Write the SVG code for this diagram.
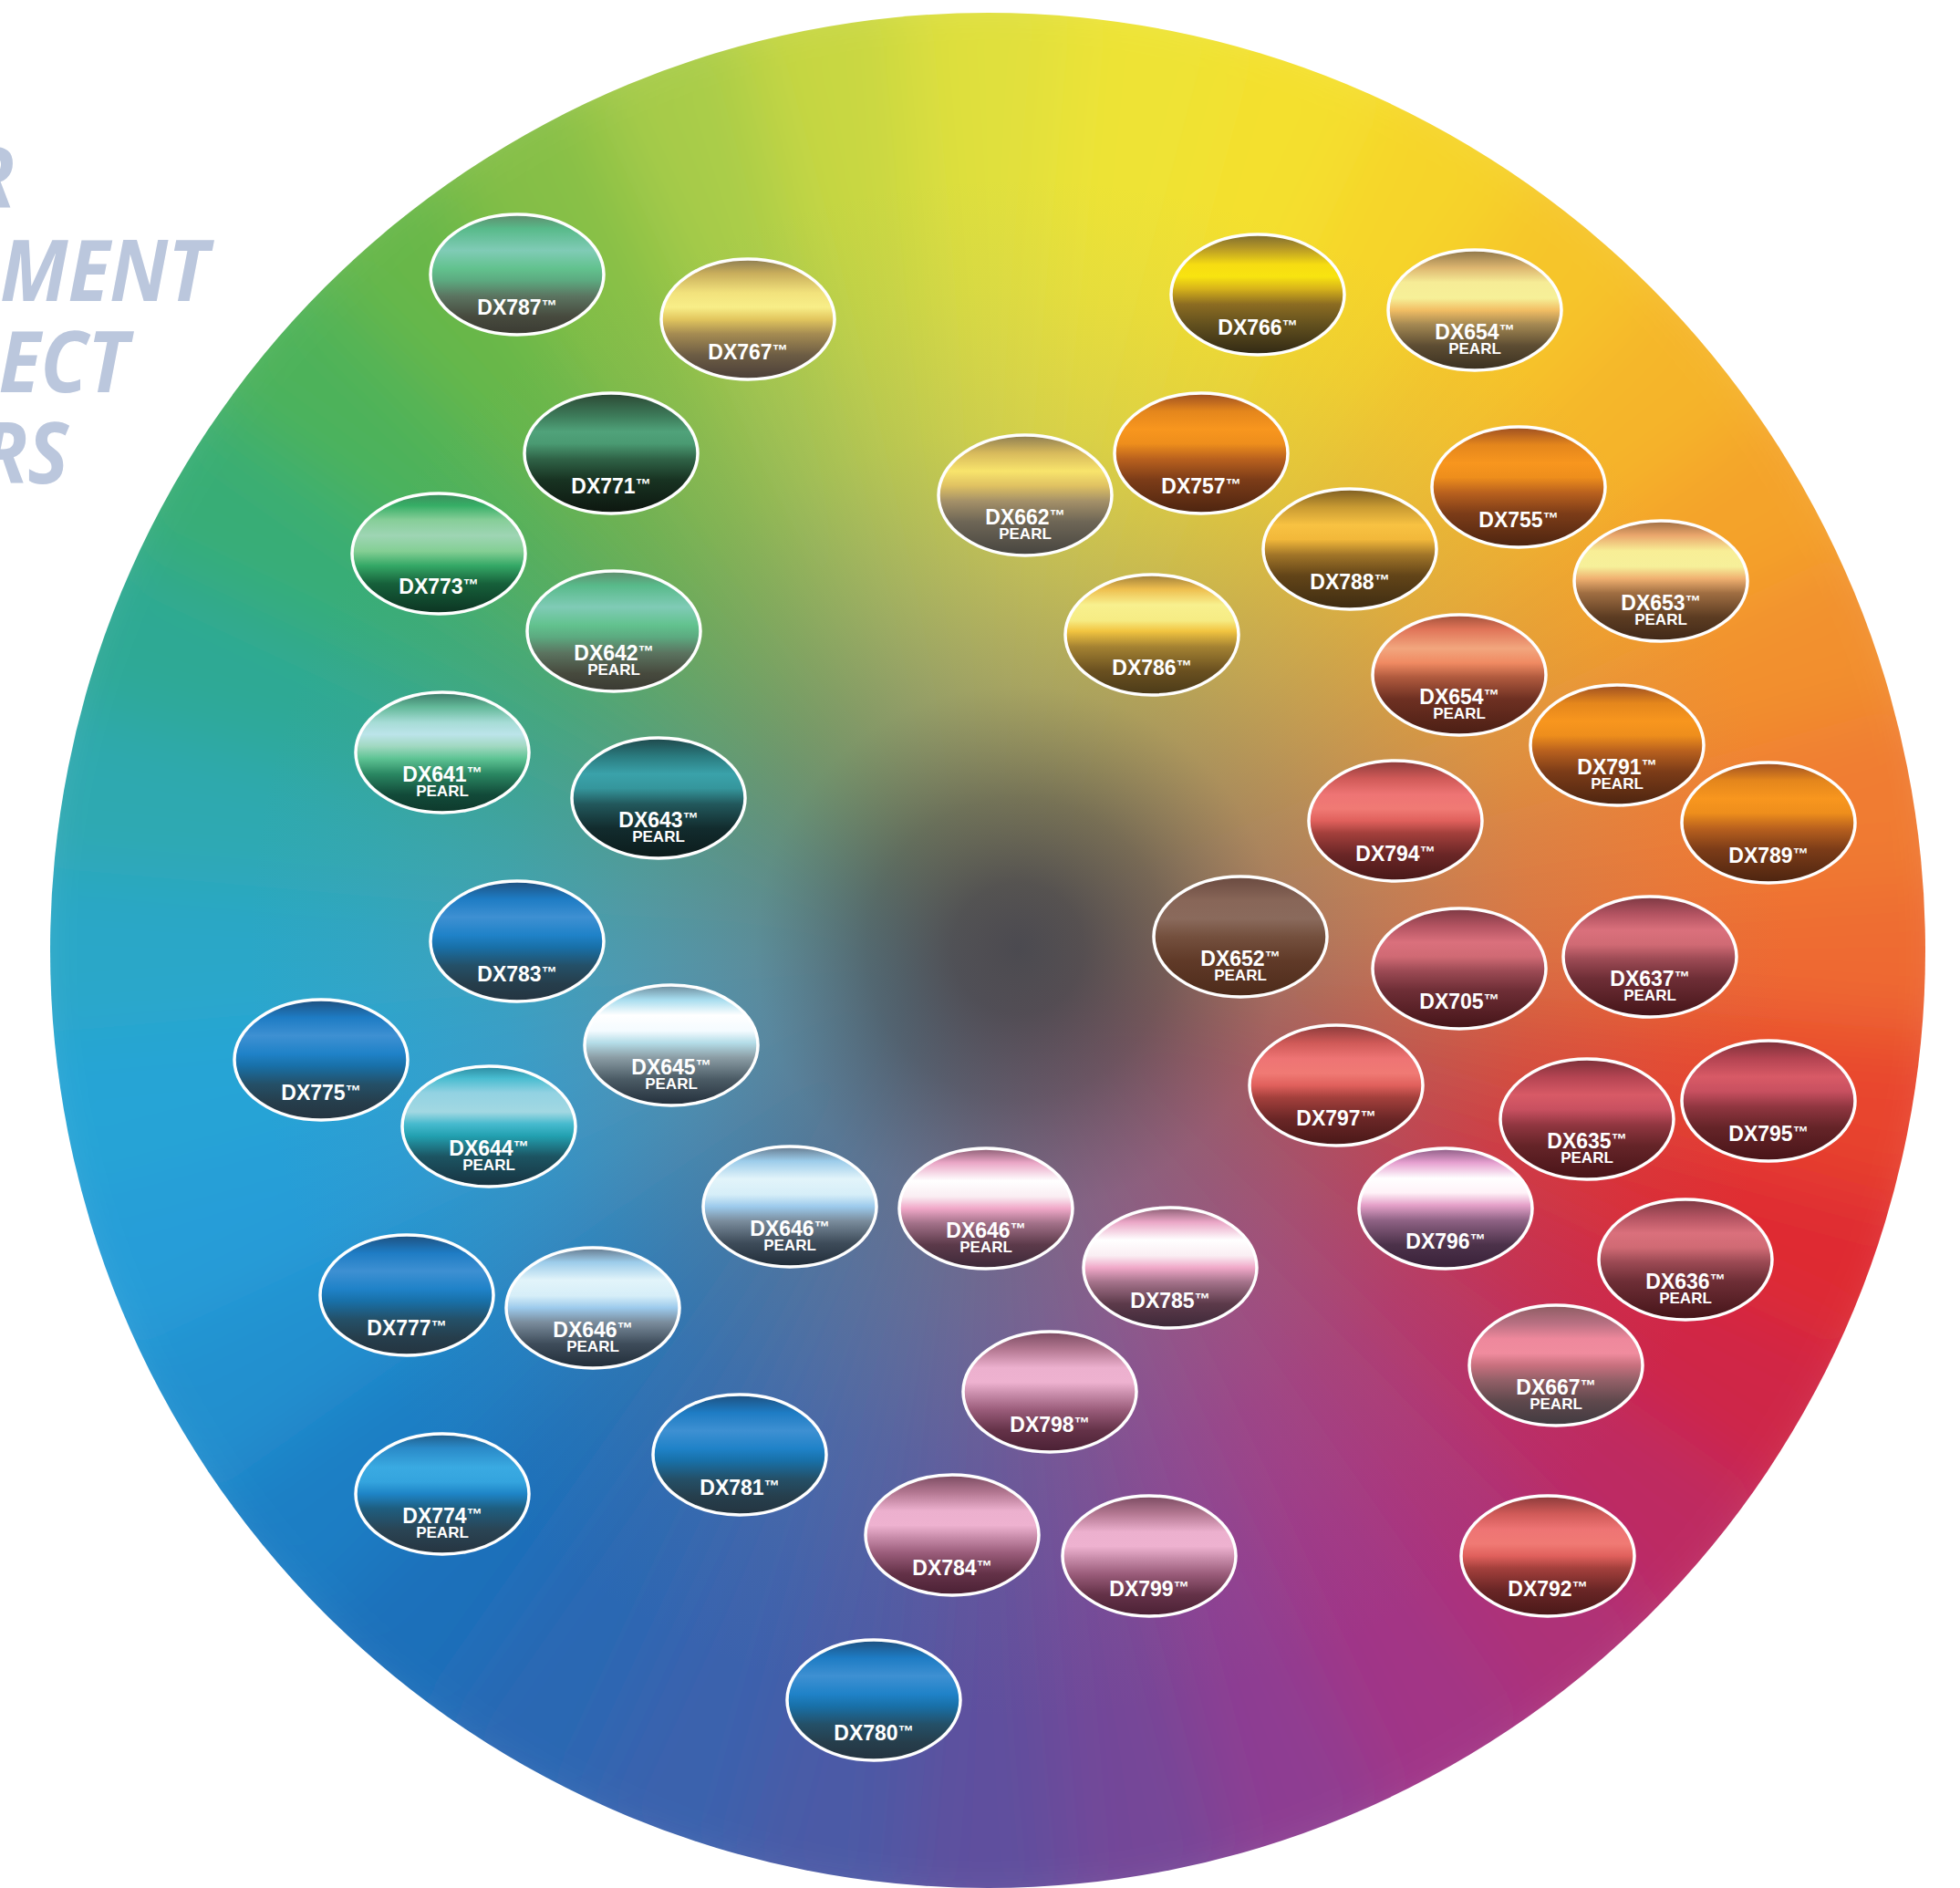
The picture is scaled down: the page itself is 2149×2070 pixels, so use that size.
<svg xmlns="http://www.w3.org/2000/svg" width="2149" height="2070" viewBox="0 0 2149 2070">
<style>
.w{fill:none;stroke-width:1100;stroke-dasharray:105.6 3350.15}
ellipse{stroke:#fff;stroke-width:3.5}
.l{font-family:"Liberation Sans",Arial,Helvetica,sans-serif;font-weight:700;font-size:23px;fill:#fff;text-anchor:middle}
.tm{font-size:17px}
.p{font-size:17px}
.big{font-family:"Open Sans","Liberation Sans",sans-serif;font-weight:700;font-style:italic;font-size:94px;fill:#BBC7DD;text-anchor:end}
</style>
<defs>
<clipPath id="wheelClip"><circle cx="1083" cy="1042" r="1028"/></clipPath>
<filter id="soft" filterUnits="userSpaceOnUse" x="-200" y="-200" width="2550" height="2470"><feGaussianBlur stdDeviation="42"/></filter>
<radialGradient id="shade" gradientUnits="userSpaceOnUse" cx="1116" cy="1040" r="1030">
<stop offset="0" stop-color="#4B4A50" stop-opacity="1"/>
<stop offset="0.07" stop-color="#4E4D52" stop-opacity="0.95"/>
<stop offset="0.16" stop-color="#5C5C5E" stop-opacity="0.82"/>
<stop offset="0.28" stop-color="#7C7C7C" stop-opacity="0.6"/>
<stop offset="0.4" stop-color="#848484" stop-opacity="0.42"/>
<stop offset="0.55" stop-color="#8A8A8A" stop-opacity="0.2"/>
<stop offset="0.7" stop-color="#909090" stop-opacity="0.07"/>
<stop offset="0.82" stop-color="#909090" stop-opacity="0"/>
</radialGradient>
<linearGradient id="g787" x1="0" y1="0" x2="0" y2="1"><stop offset="0" stop-color="#5F8B6C"/><stop offset=".12" stop-color="#58BA8A"/><stop offset=".3" stop-color="#80CBB6"/><stop offset=".45" stop-color="#62C28E"/><stop offset=".55" stop-color="#5CAA80"/><stop offset=".68" stop-color="#5B7460"/><stop offset=".85" stop-color="#474A3E"/><stop offset="1" stop-color="#3A3A32"/></linearGradient>
<linearGradient id="g767" x1="0" y1="0" x2="0" y2="1"><stop offset="0" stop-color="#8C7C52"/><stop offset=".12" stop-color="#C9AE5C"/><stop offset=".28" stop-color="#F2E27C"/><stop offset=".4" stop-color="#F8EE88"/><stop offset=".5" stop-color="#E2C65E"/><stop offset=".62" stop-color="#A68C52"/><stop offset=".8" stop-color="#6C5C44"/><stop offset="1" stop-color="#4A3E38"/></linearGradient>
<linearGradient id="g771" x1="0" y1="0" x2="0" y2="1"><stop offset="0" stop-color="#2B4733"/><stop offset=".2" stop-color="#3E7E5C"/><stop offset=".32" stop-color="#50A27A"/><stop offset=".42" stop-color="#4A9A72"/><stop offset=".55" stop-color="#2F6246"/><stop offset=".72" stop-color="#183322"/><stop offset="1" stop-color="#0D160F"/></linearGradient>
<linearGradient id="g773" x1="0" y1="0" x2="0" y2="1"><stop offset="0" stop-color="#3C8B5B"/><stop offset=".1" stop-color="#36AE66"/><stop offset=".22" stop-color="#86CE98"/><stop offset=".35" stop-color="#9ED5B4"/><stop offset=".48" stop-color="#84CF94"/><stop offset=".6" stop-color="#34A866"/><stop offset=".75" stop-color="#16603A"/><stop offset="1" stop-color="#0C3322"/></linearGradient>
<linearGradient id="g641" x1="0" y1="0" x2="0" y2="1"><stop offset="0" stop-color="#3B7867"/><stop offset=".12" stop-color="#62B898"/><stop offset=".25" stop-color="#A6DCD6"/><stop offset=".35" stop-color="#BCE4EA"/><stop offset=".45" stop-color="#A0D8C0"/><stop offset=".55" stop-color="#5EC494"/><stop offset=".68" stop-color="#2A8762"/><stop offset=".85" stop-color="#124A39"/><stop offset="1" stop-color="#0E392C"/></linearGradient>
<linearGradient id="g643" x1="0" y1="0" x2="0" y2="1"><stop offset="0" stop-color="#1E474A"/><stop offset=".15" stop-color="#2A7A7E"/><stop offset=".3" stop-color="#3AA2AA"/><stop offset=".42" stop-color="#35969C"/><stop offset=".55" stop-color="#22585C"/><stop offset=".75" stop-color="#122C2E"/><stop offset="1" stop-color="#0C1B1B"/></linearGradient>
<linearGradient id="gBlue" x1="0" y1="0" x2="0" y2="1"><stop offset="0" stop-color="#1E4F7E"/><stop offset=".15" stop-color="#1E7CC4"/><stop offset=".3" stop-color="#3E90D2"/><stop offset=".45" stop-color="#1F82C8"/><stop offset=".55" stop-color="#1870A8"/><stop offset=".7" stop-color="#245068"/><stop offset=".85" stop-color="#263E4C"/><stop offset="1" stop-color="#243440"/></linearGradient>
<linearGradient id="g774" x1="0" y1="0" x2="0" y2="1"><stop offset="0" stop-color="#215C88"/><stop offset=".12" stop-color="#2A8AC8"/><stop offset=".28" stop-color="#3AAAE2"/><stop offset=".4" stop-color="#34A4DE"/><stop offset=".5" stop-color="#1E84C6"/><stop offset=".62" stop-color="#1E5E80"/><stop offset=".8" stop-color="#2A4454"/><stop offset="1" stop-color="#263440"/></linearGradient>
<linearGradient id="g645" x1="0" y1="0" x2="0" y2="1"><stop offset="0" stop-color="#6C8A9A"/><stop offset=".12" stop-color="#A6DCEE"/><stop offset=".25" stop-color="#FFFFFF"/><stop offset=".38" stop-color="#F4FBFF"/><stop offset=".48" stop-color="#B4DDE8"/><stop offset=".6" stop-color="#8C9EA6"/><stop offset=".78" stop-color="#4C5C66"/><stop offset="1" stop-color="#222E3A"/></linearGradient>
<linearGradient id="g644" x1="0" y1="0" x2="0" y2="1"><stop offset="0" stop-color="#2B889E"/><stop offset=".1" stop-color="#48BCD0"/><stop offset=".22" stop-color="#92D2E2"/><stop offset=".38" stop-color="#A2D8E2"/><stop offset=".48" stop-color="#46BACE"/><stop offset=".58" stop-color="#22A0B0"/><stop offset=".75" stop-color="#1C5462"/><stop offset="1" stop-color="#173240"/></linearGradient>
<linearGradient id="g646" x1="0" y1="0" x2="0" y2="1"><stop offset="0" stop-color="#64788C"/><stop offset=".12" stop-color="#9CCCEA"/><stop offset=".27" stop-color="#E2F4FA"/><stop offset=".4" stop-color="#D6EEF8"/><stop offset=".5" stop-color="#9CCAEC"/><stop offset=".62" stop-color="#7A8C9C"/><stop offset=".8" stop-color="#3E4C5A"/><stop offset="1" stop-color="#202C38"/></linearGradient>
<linearGradient id="g646p" x1="0" y1="0" x2="0" y2="1"><stop offset="0" stop-color="#8A5C72"/><stop offset=".12" stop-color="#EAA6C6"/><stop offset=".27" stop-color="#FFFFFF"/><stop offset=".4" stop-color="#FAEEF3"/><stop offset=".5" stop-color="#F0A8C8"/><stop offset=".62" stop-color="#A4728A"/><stop offset=".8" stop-color="#5C3A4A"/><stop offset="1" stop-color="#3C2838"/></linearGradient>
<linearGradient id="g796" x1="0" y1="0" x2="0" y2="1"><stop offset="0" stop-color="#8A5A82"/><stop offset=".12" stop-color="#E6A0D0"/><stop offset=".25" stop-color="#FFFFFF"/><stop offset=".37" stop-color="#FFF2F8"/><stop offset=".47" stop-color="#E6A2CA"/><stop offset=".6" stop-color="#8E6284"/><stop offset=".8" stop-color="#4C324A"/><stop offset="1" stop-color="#382038"/></linearGradient>
<linearGradient id="g798" x1="0" y1="0" x2="0" y2="1"><stop offset="0" stop-color="#7A4A60"/><stop offset=".15" stop-color="#B47892"/><stop offset=".3" stop-color="#ECB0CE"/><stop offset=".42" stop-color="#EEB2D0"/><stop offset=".52" stop-color="#C88CAA"/><stop offset=".65" stop-color="#9A5C7A"/><stop offset=".82" stop-color="#643248"/><stop offset="1" stop-color="#4A2034"/></linearGradient>
<linearGradient id="g766" x1="0" y1="0" x2="0" y2="1"><stop offset="0" stop-color="#7C6A30"/><stop offset=".12" stop-color="#B89A26"/><stop offset=".25" stop-color="#F6DC12"/><stop offset=".35" stop-color="#F8E410"/><stop offset=".45" stop-color="#D8B41A"/><stop offset=".58" stop-color="#8C6C22"/><stop offset=".75" stop-color="#62501E"/><stop offset="1" stop-color="#302814"/></linearGradient>
<linearGradient id="g654a" x1="0" y1="0" x2="0" y2="1"><stop offset="0" stop-color="#8C7448"/><stop offset=".15" stop-color="#DDB670"/><stop offset=".27" stop-color="#F6EC96"/><stop offset=".4" stop-color="#F6F098"/><stop offset=".5" stop-color="#F2BE64"/><stop offset=".62" stop-color="#A48852"/><stop offset=".8" stop-color="#5C4C32"/><stop offset="1" stop-color="#3A3020"/></linearGradient>
<linearGradient id="g662" x1="0" y1="0" x2="0" y2="1"><stop offset="0" stop-color="#8C7C52"/><stop offset=".15" stop-color="#D8BA5C"/><stop offset=".3" stop-color="#F8E46C"/><stop offset=".42" stop-color="#E0C262"/><stop offset=".55" stop-color="#A49068"/><stop offset=".72" stop-color="#6E6656"/><stop offset="1" stop-color="#46443F"/></linearGradient>
<linearGradient id="gOrange" x1="0" y1="0" x2="0" y2="1"><stop offset="0" stop-color="#9C4E22"/><stop offset=".15" stop-color="#E4861C"/><stop offset=".3" stop-color="#F8961E"/><stop offset=".42" stop-color="#EE8E1C"/><stop offset=".55" stop-color="#B8601E"/><stop offset=".72" stop-color="#7C3C18"/><stop offset="1" stop-color="#4C2410"/></linearGradient>
<linearGradient id="g788" x1="0" y1="0" x2="0" y2="1"><stop offset="0" stop-color="#7C5C22"/><stop offset=".15" stop-color="#C89A32"/><stop offset=".3" stop-color="#F8C242"/><stop offset=".42" stop-color="#F2B83A"/><stop offset=".55" stop-color="#A07428"/><stop offset=".72" stop-color="#624418"/><stop offset="1" stop-color="#3E2C12"/></linearGradient>
<linearGradient id="g653" x1="0" y1="0" x2="0" y2="1"><stop offset="0" stop-color="#9C6C42"/><stop offset=".12" stop-color="#EAA66C"/><stop offset=".25" stop-color="#F8EE96"/><stop offset=".38" stop-color="#F6F09A"/><stop offset=".48" stop-color="#F0B070"/><stop offset=".6" stop-color="#A06E42"/><stop offset=".8" stop-color="#5C3C22"/><stop offset="1" stop-color="#402818"/></linearGradient>
<linearGradient id="g786" x1="0" y1="0" x2="0" y2="1"><stop offset="0" stop-color="#9C7C3A"/><stop offset=".12" stop-color="#EEBE4E"/><stop offset=".25" stop-color="#F8F08E"/><stop offset=".38" stop-color="#F6EC84"/><stop offset=".47" stop-color="#F2C440"/><stop offset=".6" stop-color="#A48232"/><stop offset=".8" stop-color="#6A5020"/><stop offset="1" stop-color="#4A3A18"/></linearGradient>
<linearGradient id="g654b" x1="0" y1="0" x2="0" y2="1"><stop offset="0" stop-color="#A0503A"/><stop offset=".12" stop-color="#E07458"/><stop offset=".28" stop-color="#F2A67E"/><stop offset=".4" stop-color="#F08A62"/><stop offset=".52" stop-color="#B05A3E"/><stop offset=".7" stop-color="#6E3022"/><stop offset="1" stop-color="#4A1E14"/></linearGradient>
<linearGradient id="g794" x1="0" y1="0" x2="0" y2="1"><stop offset="0" stop-color="#8A3A3A"/><stop offset=".15" stop-color="#D05A58"/><stop offset=".28" stop-color="#EE7474"/><stop offset=".4" stop-color="#F07A74"/><stop offset=".5" stop-color="#E0605C"/><stop offset=".6" stop-color="#A4403C"/><stop offset=".78" stop-color="#6A2626"/><stop offset="1" stop-color="#481818"/></linearGradient>
<linearGradient id="g652" x1="0" y1="0" x2="0" y2="1"><stop offset="0" stop-color="#6A4A40"/><stop offset=".2" stop-color="#886658"/><stop offset=".35" stop-color="#8A6A5C"/><stop offset=".5" stop-color="#74503E"/><stop offset=".7" stop-color="#603A28"/><stop offset="1" stop-color="#4C2A1A"/></linearGradient>
<linearGradient id="g705" x1="0" y1="0" x2="0" y2="1"><stop offset="0" stop-color="#7C3842"/><stop offset=".15" stop-color="#B45462"/><stop offset=".28" stop-color="#DA707C"/><stop offset=".4" stop-color="#D06A74"/><stop offset=".52" stop-color="#9C4A54"/><stop offset=".68" stop-color="#6E2E36"/><stop offset="1" stop-color="#441418"/></linearGradient>
<linearGradient id="g635" x1="0" y1="0" x2="0" y2="1"><stop offset="0" stop-color="#7A3038"/><stop offset=".15" stop-color="#B44452"/><stop offset=".3" stop-color="#D85A66"/><stop offset=".42" stop-color="#C85060"/><stop offset=".55" stop-color="#903640"/><stop offset=".72" stop-color="#652428"/><stop offset="1" stop-color="#481418"/></linearGradient>
<linearGradient id="g667" x1="0" y1="0" x2="0" y2="1"><stop offset="0" stop-color="#8C5C62"/><stop offset=".15" stop-color="#B87082"/><stop offset=".28" stop-color="#EE889C"/><stop offset=".4" stop-color="#F08C9E"/><stop offset=".5" stop-color="#C8707E"/><stop offset=".62" stop-color="#946068"/><stop offset=".8" stop-color="#5E484C"/><stop offset="1" stop-color="#403A40"/></linearGradient>
</defs>

<g id="title">
<text class="big" transform="translate(16,228) scale(0.9,1)">R</text>
<text class="big" transform="translate(229,330) scale(0.9,1)">MENT</text>
<text class="big" transform="translate(141,430) scale(0.9,1)">ECT</text>
<text class="big" transform="translate(75,530) scale(0.9,1)">RS</text>
</g>

<g id="wheel" clip-path="url(#wheelClip)">
<g filter="url(#soft)">
<g transform="rotate(-5 1083 1042)">
<circle class="w" cx="1083" cy="1042" r="550" stroke="#EE6A30" stroke-dashoffset="0"/>
<circle class="w" cx="1083" cy="1042" r="550" stroke="#E8442E" stroke-dashoffset="-95.99"/>
<circle class="w" cx="1083" cy="1042" r="550" stroke="#DF2C33" stroke-dashoffset="-191.99"/>
<circle class="w" cx="1083" cy="1042" r="550" stroke="#CF2547" stroke-dashoffset="-287.98"/>
<circle class="w" cx="1083" cy="1042" r="550" stroke="#BD2A62" stroke-dashoffset="-383.97"/>
<circle class="w" cx="1083" cy="1042" r="550" stroke="#AE3078" stroke-dashoffset="-479.97"/>
<circle class="w" cx="1083" cy="1042" r="550" stroke="#A23686" stroke-dashoffset="-575.96"/>
<circle class="w" cx="1083" cy="1042" r="550" stroke="#8E3E92" stroke-dashoffset="-671.95"/>
<circle class="w" cx="1083" cy="1042" r="550" stroke="#744798" stroke-dashoffset="-767.94"/>
<circle class="w" cx="1083" cy="1042" r="550" stroke="#5E509E" stroke-dashoffset="-863.94"/>
<circle class="w" cx="1083" cy="1042" r="550" stroke="#4C5AA6" stroke-dashoffset="-959.93"/>
<circle class="w" cx="1083" cy="1042" r="550" stroke="#3B62AD" stroke-dashoffset="-1055.92"/>
<circle class="w" cx="1083" cy="1042" r="550" stroke="#2C68B3" stroke-dashoffset="-1151.92"/>
<circle class="w" cx="1083" cy="1042" r="550" stroke="#1F70BA" stroke-dashoffset="-1247.91"/>
<circle class="w" cx="1083" cy="1042" r="550" stroke="#1E7EC4" stroke-dashoffset="-1343.90"/>
<circle class="w" cx="1083" cy="1042" r="550" stroke="#2190CF" stroke-dashoffset="-1439.90"/>
<circle class="w" cx="1083" cy="1042" r="550" stroke="#259DD8" stroke-dashoffset="-1535.89"/>
<circle class="w" cx="1083" cy="1042" r="550" stroke="#28A4D6" stroke-dashoffset="-1631.88"/>
<circle class="w" cx="1083" cy="1042" r="550" stroke="#2BA7C8" stroke-dashoffset="-1727.87"/>
<circle class="w" cx="1083" cy="1042" r="550" stroke="#2FA9B0" stroke-dashoffset="-1823.87"/>
<circle class="w" cx="1083" cy="1042" r="550" stroke="#2FA994" stroke-dashoffset="-1919.86"/>
<circle class="w" cx="1083" cy="1042" r="550" stroke="#38AD76" stroke-dashoffset="-2015.85"/>
<circle class="w" cx="1083" cy="1042" r="550" stroke="#4EB25A" stroke-dashoffset="-2111.85"/>
<circle class="w" cx="1083" cy="1042" r="550" stroke="#68B748" stroke-dashoffset="-2207.84"/>
<circle class="w" cx="1083" cy="1042" r="550" stroke="#86BF46" stroke-dashoffset="-2303.83"/>
<circle class="w" cx="1083" cy="1042" r="550" stroke="#A8CC48" stroke-dashoffset="-2399.83"/>
<circle class="w" cx="1083" cy="1042" r="550" stroke="#C8D743" stroke-dashoffset="-2495.82"/>
<circle class="w" cx="1083" cy="1042" r="550" stroke="#E0E03C" stroke-dashoffset="-2591.81"/>
<circle class="w" cx="1083" cy="1042" r="550" stroke="#EEE335" stroke-dashoffset="-2687.80"/>
<circle class="w" cx="1083" cy="1042" r="550" stroke="#F4E02E" stroke-dashoffset="-2783.80"/>
<circle class="w" cx="1083" cy="1042" r="550" stroke="#F6D42A" stroke-dashoffset="-2879.79"/>
<circle class="w" cx="1083" cy="1042" r="550" stroke="#F6C52A" stroke-dashoffset="-2975.78"/>
<circle class="w" cx="1083" cy="1042" r="550" stroke="#F5B52A" stroke-dashoffset="-3071.78"/>
<circle class="w" cx="1083" cy="1042" r="550" stroke="#F4A32C" stroke-dashoffset="-3167.77"/>
<circle class="w" cx="1083" cy="1042" r="550" stroke="#F2902E" stroke-dashoffset="-3263.76"/>
<circle class="w" cx="1083" cy="1042" r="550" stroke="#F07C30" stroke-dashoffset="-3359.76"/>
</g>
</g>
<circle cx="1083" cy="1042" r="1028" fill="url(#shade)"/>
</g>

<g id="dx787"><ellipse cx="567" cy="301" rx="95" ry="66" fill="url(#g787)"/><text class="l" x="567" y="345">DX787<tspan class="tm" dy="-4">™</tspan></text></g>
<g id="dx767"><ellipse cx="820" cy="350" rx="95" ry="66" fill="url(#g767)"/><text class="l" x="820" y="394">DX767<tspan class="tm" dy="-4">™</tspan></text></g>
<g id="dx771"><ellipse cx="670" cy="497" rx="95" ry="66" fill="url(#g771)"/><text class="l" x="670" y="541">DX771<tspan class="tm" dy="-4">™</tspan></text></g>
<g id="dx773"><ellipse cx="481" cy="607" rx="95" ry="66" fill="url(#g773)"/><text class="l" x="481" y="651">DX773<tspan class="tm" dy="-4">™</tspan></text></g>
<g id="dx642"><ellipse cx="673" cy="692" rx="95" ry="66" fill="url(#g787)"/><text class="l" x="673" y="724">DX642<tspan class="tm" dy="-4">™</tspan></text><text class="l p" x="673" y="740">PEARL</text></g>
<g id="dx641"><ellipse cx="485" cy="825" rx="95" ry="66" fill="url(#g641)"/><text class="l" x="485" y="857">DX641<tspan class="tm" dy="-4">™</tspan></text><text class="l p" x="485" y="873">PEARL</text></g>
<g id="dx643"><ellipse cx="722" cy="875" rx="95" ry="66" fill="url(#g643)"/><text class="l" x="722" y="907">DX643<tspan class="tm" dy="-4">™</tspan></text><text class="l p" x="722" y="923">PEARL</text></g>
<g id="dx783"><ellipse cx="567" cy="1032" rx="95" ry="66" fill="url(#gBlue)"/><text class="l" x="567" y="1076">DX783<tspan class="tm" dy="-4">™</tspan></text></g>
<g id="dx775"><ellipse cx="352" cy="1162" rx="95" ry="66" fill="url(#gBlue)"/><text class="l" x="352" y="1206">DX775<tspan class="tm" dy="-4">™</tspan></text></g>
<g id="dx645"><ellipse cx="736" cy="1146" rx="95" ry="66" fill="url(#g645)"/><text class="l" x="736" y="1178">DX645<tspan class="tm" dy="-4">™</tspan></text><text class="l p" x="736" y="1194">PEARL</text></g>
<g id="dx644"><ellipse cx="536" cy="1235" rx="95" ry="66" fill="url(#g644)"/><text class="l" x="536" y="1267">DX644<tspan class="tm" dy="-4">™</tspan></text><text class="l p" x="536" y="1283">PEARL</text></g>
<g id="dx646-a"><ellipse cx="866" cy="1323" rx="95" ry="66" fill="url(#g646)"/><text class="l" x="866" y="1355">DX646<tspan class="tm" dy="-4">™</tspan></text><text class="l p" x="866" y="1371">PEARL</text></g>
<g id="dx646-b"><ellipse cx="1081" cy="1325" rx="95" ry="66" fill="url(#g646p)"/><text class="l" x="1081" y="1357">DX646<tspan class="tm" dy="-4">™</tspan></text><text class="l p" x="1081" y="1373">PEARL</text></g>
<g id="dx785"><ellipse cx="1283" cy="1390" rx="95" ry="66" fill="url(#g646p)"/><text class="l" x="1283" y="1434">DX785<tspan class="tm" dy="-4">™</tspan></text></g>
<g id="dx777"><ellipse cx="446" cy="1420" rx="95" ry="66" fill="url(#gBlue)"/><text class="l" x="446" y="1464">DX777<tspan class="tm" dy="-4">™</tspan></text></g>
<g id="dx646-c"><ellipse cx="650" cy="1434" rx="95" ry="66" fill="url(#g646)"/><text class="l" x="650" y="1466">DX646<tspan class="tm" dy="-4">™</tspan></text><text class="l p" x="650" y="1482">PEARL</text></g>
<g id="dx798"><ellipse cx="1151" cy="1526" rx="95" ry="66" fill="url(#g798)"/><text class="l" x="1151" y="1570">DX798<tspan class="tm" dy="-4">™</tspan></text></g>
<g id="dx781"><ellipse cx="811" cy="1595" rx="95" ry="66" fill="url(#gBlue)"/><text class="l" x="811" y="1639">DX781<tspan class="tm" dy="-4">™</tspan></text></g>
<g id="dx774"><ellipse cx="485" cy="1638" rx="95" ry="66" fill="url(#g774)"/><text class="l" x="485" y="1670">DX774<tspan class="tm" dy="-4">™</tspan></text><text class="l p" x="485" y="1686">PEARL</text></g>
<g id="dx784"><ellipse cx="1044" cy="1683" rx="95" ry="66" fill="url(#g798)"/><text class="l" x="1044" y="1727">DX784<tspan class="tm" dy="-4">™</tspan></text></g>
<g id="dx799"><ellipse cx="1260" cy="1706" rx="95" ry="66" fill="url(#g798)"/><text class="l" x="1260" y="1750">DX799<tspan class="tm" dy="-4">™</tspan></text></g>
<g id="dx780"><ellipse cx="958" cy="1864" rx="95" ry="66" fill="url(#gBlue)"/><text class="l" x="958" y="1908">DX780<tspan class="tm" dy="-4">™</tspan></text></g>
<g id="dx766"><ellipse cx="1379" cy="323" rx="95" ry="66" fill="url(#g766)"/><text class="l" x="1379" y="367">DX766<tspan class="tm" dy="-4">™</tspan></text></g>
<g id="dx654-a"><ellipse cx="1617" cy="340" rx="95" ry="66" fill="url(#g654a)"/><text class="l" x="1617" y="372">DX654<tspan class="tm" dy="-4">™</tspan></text><text class="l p" x="1617" y="388">PEARL</text></g>
<g id="dx662"><ellipse cx="1124" cy="543" rx="95" ry="66" fill="url(#g662)"/><text class="l" x="1124" y="575">DX662<tspan class="tm" dy="-4">™</tspan></text><text class="l p" x="1124" y="591">PEARL</text></g>
<g id="dx757"><ellipse cx="1317" cy="497" rx="95" ry="66" fill="url(#gOrange)"/><text class="l" x="1317" y="541">DX757<tspan class="tm" dy="-4">™</tspan></text></g>
<g id="dx755"><ellipse cx="1665" cy="534" rx="95" ry="66" fill="url(#gOrange)"/><text class="l" x="1665" y="578">DX755<tspan class="tm" dy="-4">™</tspan></text></g>
<g id="dx788"><ellipse cx="1480" cy="602" rx="95" ry="66" fill="url(#g788)"/><text class="l" x="1480" y="646">DX788<tspan class="tm" dy="-4">™</tspan></text></g>
<g id="dx653"><ellipse cx="1821" cy="637" rx="95" ry="66" fill="url(#g653)"/><text class="l" x="1821" y="669">DX653<tspan class="tm" dy="-4">™</tspan></text><text class="l p" x="1821" y="685">PEARL</text></g>
<g id="dx786"><ellipse cx="1263" cy="696" rx="95" ry="66" fill="url(#g786)"/><text class="l" x="1263" y="740">DX786<tspan class="tm" dy="-4">™</tspan></text></g>
<g id="dx654-b"><ellipse cx="1600" cy="740" rx="95" ry="66" fill="url(#g654b)"/><text class="l" x="1600" y="772">DX654<tspan class="tm" dy="-4">™</tspan></text><text class="l p" x="1600" y="788">PEARL</text></g>
<g id="dx791"><ellipse cx="1773" cy="817" rx="95" ry="66" fill="url(#gOrange)"/><text class="l" x="1773" y="849">DX791<tspan class="tm" dy="-4">™</tspan></text><text class="l p" x="1773" y="865">PEARL</text></g>
<g id="dx789"><ellipse cx="1939" cy="902" rx="95" ry="66" fill="url(#gOrange)"/><text class="l" x="1939" y="946">DX789<tspan class="tm" dy="-4">™</tspan></text></g>
<g id="dx794"><ellipse cx="1530" cy="900" rx="95" ry="66" fill="url(#g794)"/><text class="l" x="1530" y="944">DX794<tspan class="tm" dy="-4">™</tspan></text></g>
<g id="dx652"><ellipse cx="1360" cy="1027" rx="95" ry="66" fill="url(#g652)"/><text class="l" x="1360" y="1059">DX652<tspan class="tm" dy="-4">™</tspan></text><text class="l p" x="1360" y="1075">PEARL</text></g>
<g id="dx705"><ellipse cx="1600" cy="1062" rx="95" ry="66" fill="url(#g705)"/><text class="l" x="1600" y="1106">DX705<tspan class="tm" dy="-4">™</tspan></text></g>
<g id="dx637"><ellipse cx="1809" cy="1049" rx="95" ry="66" fill="url(#g705)"/><text class="l" x="1809" y="1081">DX637<tspan class="tm" dy="-4">™</tspan></text><text class="l p" x="1809" y="1097">PEARL</text></g>
<g id="dx797"><ellipse cx="1465" cy="1190" rx="95" ry="66" fill="url(#g794)"/><text class="l" x="1465" y="1234">DX797<tspan class="tm" dy="-4">™</tspan></text></g>
<g id="dx635"><ellipse cx="1740" cy="1227" rx="95" ry="66" fill="url(#g635)"/><text class="l" x="1740" y="1259">DX635<tspan class="tm" dy="-4">™</tspan></text><text class="l p" x="1740" y="1275">PEARL</text></g>
<g id="dx795"><ellipse cx="1939" cy="1207" rx="95" ry="66" fill="url(#g635)"/><text class="l" x="1939" y="1251">DX795<tspan class="tm" dy="-4">™</tspan></text></g>
<g id="dx796"><ellipse cx="1585" cy="1325" rx="95" ry="66" fill="url(#g796)"/><text class="l" x="1585" y="1369">DX796<tspan class="tm" dy="-4">™</tspan></text></g>
<g id="dx636"><ellipse cx="1848" cy="1381" rx="95" ry="66" fill="url(#g705)"/><text class="l" x="1848" y="1413">DX636<tspan class="tm" dy="-4">™</tspan></text><text class="l p" x="1848" y="1429">PEARL</text></g>
<g id="dx667"><ellipse cx="1706" cy="1497" rx="95" ry="66" fill="url(#g667)"/><text class="l" x="1706" y="1529">DX667<tspan class="tm" dy="-4">™</tspan></text><text class="l p" x="1706" y="1545">PEARL</text></g>
<g id="dx792"><ellipse cx="1697" cy="1706" rx="95" ry="66" fill="url(#g794)"/><text class="l" x="1697" y="1750">DX792<tspan class="tm" dy="-4">™</tspan></text></g>
</svg>
